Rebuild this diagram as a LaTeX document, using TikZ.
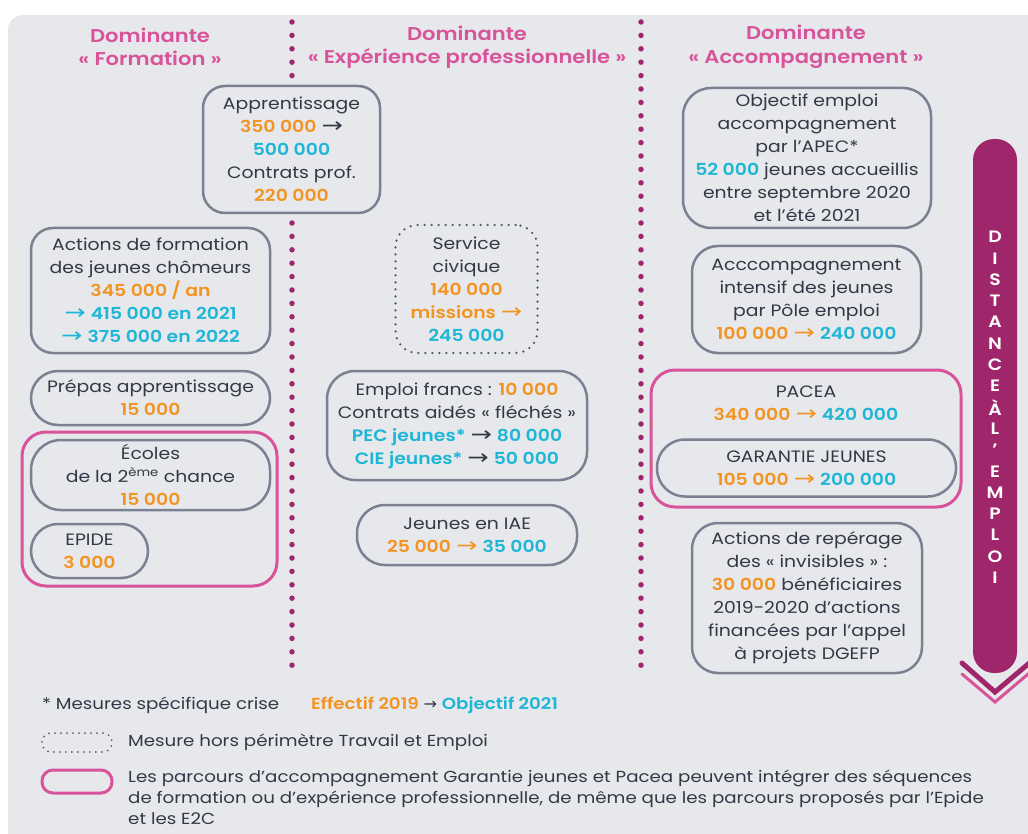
\documentclass[tikz,border=0pt]{standalone}
\usepackage{fontspec}
\setmainfont{Poppins}[BoldFont={Poppins SemiBold}, FakeStretch=1.14]
\newfontfamily\arrfont{DejaVu Sans}
\definecolor{bg}{HTML}{E6E8EC}
\definecolor{txt}{HTML}{363746}
\definecolor{org}{HTML}{F39422}
\definecolor{cya}{HTML}{1EB6D6}
\definecolor{pnk}{HTML}{D9539B}
\definecolor{pur}{HTML}{A0266B}
\definecolor{bord}{HTML}{7C8192}
\newcommand{\nO}[1]{\textcolor{org}{\bfseries #1}}
\newcommand{\nC}[1]{\textcolor{cya}{\bfseries #1}}
\newcommand{\bigarr}{\scalebox{1.55}[1.25]{\arrfont →}}
\newcommand{\arD}{\textcolor{txt}{\bigarr}}
\newcommand{\arO}{\textcolor{org}{\bigarr}}
\newcommand{\arC}{\textcolor{cya}{\bigarr}}
\newcommand{\msz}{\fontsize{16.5}{23}\selectfont}
\begin{document}
\begin{tikzpicture}[x=1pt,y=-1pt,
  box/.style={draw=bord, fill=bg, line width=2.5pt, rounded corners=22pt, align=center, text=txt, font=\msz, inner sep=0pt},
  dotbox/.style={box, draw=txt!85, dash pattern=on 0pt off 7pt, line cap=round},
  pinkbox/.style={draw=pnk, line width=3pt, rounded corners=24pt},
  head/.style={text=pnk, font=\fontsize{18.5}{23.5}\selectfont\bfseries, align=center},
  vdots/.style={pur, line width=5.5pt, line cap=round, dash pattern=on 0pt off 13.4pt},
  letter/.style={text=white, font=\fontsize{16.5}{16.5}\selectfont\bfseries, inner sep=0pt},
  legend/.style={text=txt, font=\fontsize{16}{21}\selectfont, anchor=west, inner sep=0pt}]
\useasboundingbox (0,0) rectangle (1028,834);
\fill[white] (0,0) rectangle (1028,834);
\fill[bg, rounded corners=15pt] (8,15) rectangle (1070,880);

% column separators
\draw[vdots] (292,22) -- (292,674);
\draw[vdots] (641,22) -- (641,674);

% headers
\node[head] (h1) at (150,47) {Dominante\\« Formation »};
\node[head] (h2) at (467,47) {Dominante\\« Expérience professionnelle »};
\node[head] (h3) at (806,47) {Dominante\\« Accompagnement »};

% column 1
\node[box, minimum width=177pt, minimum height=127pt] (appr) at (291.5,149.5)
  {Apprentissage\\ \nO{350 000} \arD\\ \nC{500 000}\\ Contrats prof.\\ \nO{220 000}};
\node[box, minimum width=239pt, minimum height=125pt] (form) at (150.5,290.5)
  {Actions de formation\\ des jeunes chômeurs\\ \nO{345 000 / an}\\ \arC\ \nC{415 000 en 2021}\\ \arC\ \nC{375 000 en 2022}};
\node[box, rounded corners=27pt, minimum width=239pt, minimum height=54pt] (prepa) at (150.5,398)
  {Prépas apprentissage\\ \nO{15 000}};
\draw[pinkbox] (22,432) rectangle (277,586);
\node[box, rounded corners=30pt, minimum width=239pt, minimum height=70pt] (e2c) at (150.5,475)
  {Écoles\\ de la 2\textsuperscript{ème} chance\\ \nO{15 000}};
\node[box, rounded corners=27pt, minimum width=117pt, minimum height=54pt] (epide) at (89.5,551)
  {EPIDE\\ \nO{3 000}};

% column 2
\node[dotbox, minimum width=142pt, minimum height=128pt] (sc) at (466.5,289)
  {Service\\ civique\\ \nO{140 000}\\ \nO{missions} \arO\\ \nC{245 000}};
\node[box, rounded corners=28pt, minimum width=260pt, minimum height=109pt] (ef) at (457,425.5)
  {Emploi francs : \nO{10 000}\\ Contrats aidés « fléchés »\\ \nC{PEC jeunes*} \arD\ \nC{80 000}\\ \nC{CIE jeunes*} \arD\ \nC{50 000}};
\node[box, rounded corners=28pt, minimum width=220pt, minimum height=60pt] (iae) at (467,535)
  {Jeunes en IAE\\ \nO{25 000} \arO\ \nC{35 000}};

% column 3
\node[box, rounded corners=28pt, minimum width=248pt, minimum height=140pt] (apec) at (807,158)
  {Objectif emploi\\ accompagnement\\ par l’APEC*\\ \nC{52 000} jeunes accueillis\\ entre septembre 2020\\ et l’été 2021};
\node[box, rounded corners=26pt, minimum width=229pt, minimum height=107pt] (pe) at (806.5,299.5)
  {Acccompagnement\\ intensif des jeunes\\ par Pôle emploi\\ \nO{100 000} \arO\ \nC{240 000}};
\draw[pinkbox] (651,370) rectangle (961,507);
\node[align=center, text=txt, font=\msz, inner sep=0pt] (pacea) at (806,403.5)
  {PACEA\\ \nO{340 000} \arO\ \nC{420 000}};
\node[box, rounded corners=28pt, minimum width=299pt, minimum height=57pt] (gj) at (806.5,468)
  {GARANTIE JEUNES\\ \nO{105 000} \arO\ \nC{200 000}};
\node[box, rounded corners=26pt, minimum width=230pt, minimum height=150pt] (inv) at (807,598)
  {Actions de repérage\\ des « invisibles » :\\ \nO{30 000} bénéficiaires\\ 2019-2020 d’actions\\ financées par l’appel\\ à projets DGEFP};

% distance arrow
\fill[pur, rounded corners=21pt] (973,139) rectangle (1017,673);
\draw[pnk, line width=3pt, line cap=round] (962,674) -- (995,702) -- (1040,664);
\draw[pur, line width=5pt, line cap=round] (962,663) -- (995,692) -- (1040,654);
\foreach \ch [count=\i from 0] in {D,I,S,T,A,N,C,E,À,L,’,E,M,P,L,O,I}{
  \node[letter] (l\i) at (995,{237+\i*21.3}) {\ch};
}

% legend
\node[legend] (lg1) at (42,705) {* Mesures spécifique crise};
\node[legend] (lg2) at (311,705) {\textcolor{org}{\bfseries Effectif 2019} {\arrfont →} \textcolor{cya}{\bfseries Objectif 2021}};
\node[draw=txt!80, line width=2pt, dash pattern=on 0pt off 6pt, line cap=round, rounded corners=9pt, minimum width=70pt, minimum height=19pt, inner sep=0pt] (lgd) at (77,742.5) {};
\node[legend] (lg3) at (128,742) {Mesure hors périmètre Travail et Emploi};
\node[draw=pnk, line width=3pt, rounded corners=11pt, minimum width=70pt, minimum height=23pt, inner sep=0pt] (lgp) at (77,781.5) {};
\node[legend, anchor=north west, align=left] (lg4) at (128,770)
  {Les parcours d’accompagnement Garantie jeunes et Pacea peuvent intégrer des séquences\\ de formation ou d’expérience professionnelle, de même que les parcours proposés par l’Epide\\ et les E2C};
\end{tikzpicture}
\end{document}
